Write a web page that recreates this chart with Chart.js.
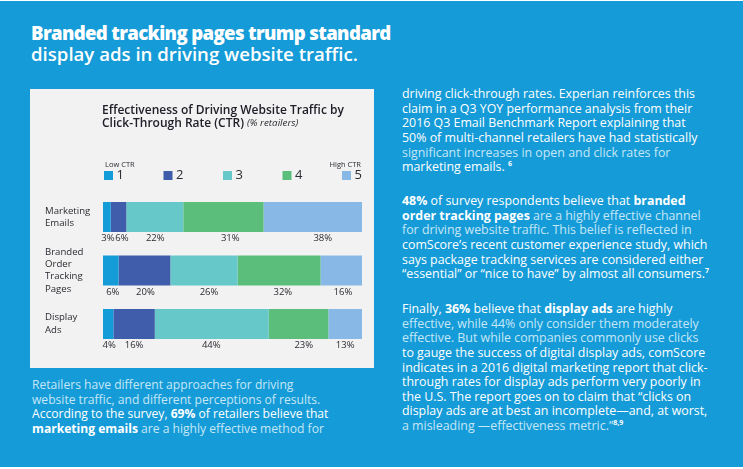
<!DOCTYPE html>
<html>
<head>
<meta charset="utf-8">
<title>Effectiveness of Driving Website Traffic</title>
<script src="https://cdn.jsdelivr.net/npm/chart.js@4"></script>
<style>
    html, body { margin: 0; padding: 0; background: #fff; }
    #page {
        position: absolute; left: 0; top: 1px; width: 743px; height: 466px;
        background: #159bd7; overflow: hidden; color: #fff;
        font-family: "Open Sans", sans-serif;
    }
    #panel { position: absolute; left: 30px; top: 88px; width: 344px; height: 279px; background: #f2f2f2; }
    canvas { display: block; }
    h1 {
        position: absolute; left: 31px; top: 21px; margin: 0; white-space: nowrap;
        font-size: 18.6px; line-height: 21px; font-weight: 800; letter-spacing: -0.65px;
    }
    h1 span { font-weight: 600; letter-spacing: 0; }
    .copy {
        position: absolute; margin: 0; white-space: nowrap;
        font-size: 12.4px; line-height: 14.62px; color: #fff;
    }
    .copy b { font-weight: 700; }
    .copy .dim { color: #c6e7f7; }
    .copy sup { font-size: 7px; line-height: 0; font-weight: 700; }
</style>
</head>
<body>
<div id="page">
    <h1>Branded tracking pages trump standard<br><span>display ads in driving website traffic.</span></h1>
    <div id="panel"><canvas id="ctrChart" width="344" height="279"></canvas></div>

    <p class="copy" style="left:32px;top:377px;font-size:12.1px">
        <span class="dim">Retailers have different approaches for driving<br>
        website traffic, and different perceptions of results.</span><br>
        According to the survey, <b>69%</b> of retailers believe that<br>
        <b>marketing emails</b> <span class="dim">are a highly effective method for</span>
    </p>
    <p class="copy" style="left:402px;top:86px">
        driving click-through rates. Experian reinforces this<br>
        claim in a Q3 YOY performance analysis from their<br>
        2016 Q3 Email Benchmark Report explaining that<br>
        50% of multi-channel retailers have had statistically<br>
        <span class="dim">significant increases in open and click rates for</span><br>
        marketing emails. <sup>6</sup>
    </p>
    <p class="copy" style="left:402px;top:193px">
        <b>48%</b> of survey respondents believe that <b>branded</b><br>
        <b>order tracking pages</b> <span class="dim">are a highly effective channel</span><br>
        <span class="dim">for driving website traffic. This belief is reflected in</span><br>
        comScore’s recent customer experience study, which<br>
        says package tracking services are considered either<br>
        “essential” or “nice to have” by almost all consumers.<sup>7</sup>
    </p>
    <p class="copy" style="left:402px;top:301px">
        Finally, <b>36%</b> believe that <b>display ads</b> are highly<br>
        <span class="dim">effective, while 44% only consider them moderately</span><br>
        <span class="dim">effective. But while companies commonly use clicks</span><br>
        to gauge the success of digital display ads, comScore<br>
        indicates in a 2016 digital marketing report that click-<br>
        through rates for display ads perform very poorly in<br>
        the U.S. The report goes on to claim that “clicks on<br>
        display ads are at best an incomplete—and, at worst,<br>
        <span class="dim">a misleading —effectiveness metric.”</span><sup>8,9</sup>
    </p>
</div>

<script>
const categories = [['Marketing', 'Emails'], ['Branded', 'Order', 'Tracking', 'Pages'], ['Display', 'Ads']];
const levelNames = ['1', '2', '3', '4', '5'];

const level1 = [3, 6, 4];
const level2 = [6, 20, 16];
const level3 = [22, 26, 44];
const level4 = [31, 32, 23];
const level5 = [38, 16, 13];

const levelColors = ['#149cd8', '#3f5daa', '#66c8c9', '#5bbf7b', '#88b9e6'];

// the percent labels do not sit quite centred under their segments
const labelNudge = [
    [1, 2, 1],
    [3.4, 1, 0],
    [0.5, 5, -0.5],
    [6.8, 3.7, 5.2],
    [10, 1.7, 0]
];

const textColor = '#2b2b33';

const panelPlugin = {
    id: 'panelText',
    afterLayout(chart) {
        // title and row names line up by hand, not with the canvas edge
        chart.titleBlock.left = 72;
        chart.scales.y.left = 15;
    },
    afterDatasetsDraw(chart) {
        const ctx = chart.ctx;
        const area = chart.chartArea;
        ctx.save();
        ctx.fillStyle = textColor;

        // percent labels under each bar
        ctx.font = '9.5px "Open Sans"';
        ctx.textAlign = 'center';
        ctx.textBaseline = 'middle';
        chart.data.datasets.forEach((dataset, i) => {
            chart.getDatasetMeta(i).data.forEach((bar, j) => {
                const x = (bar.base + bar.x) / 2 + labelNudge[i][j];
                ctx.fillText(dataset.data[j] + '%', x, bar.y + bar.height / 2 + 6.5);
            });
        });

        // legend: built-in one wraps at this spacing
        ctx.font = '13px "Open Sans"';
        ctx.textAlign = 'left';
        const pitch = (area.width - 21) / 4;
        levelNames.forEach((name, i) => {
            const x = area.left + 1 + i * pitch;
            ctx.fillStyle = levelColors[i];
            ctx.fillRect(x, 82, 9, 9);
            ctx.fillStyle = textColor;
            ctx.fillText(name, x + 12.5, 86.5);
        });

        // scale ends above the legend
        ctx.font = '7.5px "Open Sans"';
        ctx.fillText('Low CTR', area.left + 2, 75.5);
        ctx.textAlign = 'right';
        ctx.fillText('High CTR', area.right - 1, 75.5);

        // italic end of the second title line
        ctx.font = 'italic 9.8px "Open Sans"';
        ctx.textAlign = 'left';
        ctx.fillText('(% retailers)', 217, 34.5);
        ctx.restore();
    }
};

new Chart(document.getElementById('ctrChart'), {
    type: 'bar',
    data: {
        labels: categories,
        datasets: [level1, level2, level3, level4, level5].map((values, i) => ({
            label: levelNames[i],
            data: values,
            backgroundColor: levelColors[i],
            borderWidth: 0,
            categoryPercentage: 1,
            barPercentage: 0.56
        }))
    },
    options: {
        indexAxis: 'y',
        responsive: false,
        animation: false,
        layout: { padding: { right: 12, bottom: 17.25 } },
        scales: {
            x: { display: false, stacked: true, min: 0, max: 100 },
            y: {
                stacked: true,
                grid: { display: false },
                border: { display: false },
                afterFit: scale => { scale.width = 73; },
                ticks: {
                    autoSkip: false,
                    crossAlign: 'far',
                    color: textColor,
                    font: { family: '"Open Sans"', size: 9.6, lineHeight: 1.3 }
                }
            }
        },
        plugins: {
            tooltip: { enabled: false },
            legend: { display: false },
            title: {
                display: true,
                align: 'start',
                text: ['Effectiveness of Driving Website Traffic by', 'Click-Through Rate (CTR)'],
                color: '#20202a',
                font: { family: '"Open Sans"', size: 12, weight: '600', lineHeight: 1.14 },
                padding: { top: 14.5, bottom: 59.4 }
            }
        }
    },
    plugins: [panelPlugin]
});
</script>
</body>
</html>
